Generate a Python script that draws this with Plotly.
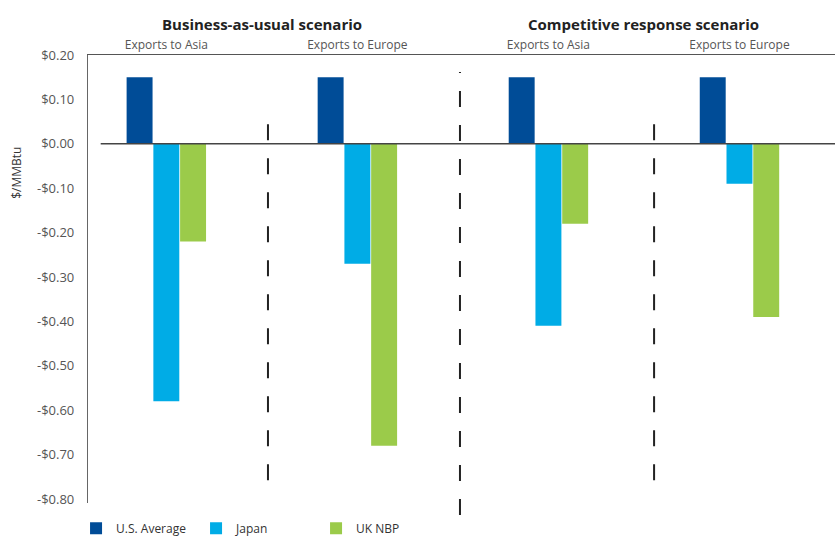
import plotly.graph_objects as go

# ---- data ----
group_ids = ["bau_asia", "bau_europe", "cr_asia", "cr_europe"]
group_labels = ["Exports to Asia", "Exports to Europe", "Exports to Asia", "Exports to Europe"]
scenarios = ["Business-as-usual scenario", "Competitive response scenario"]
series_names = ["U.S. Average", "Japan", "UK NBP"]
us_average = [0.15, 0.15, 0.15, 0.15]
japan = [-0.58, -0.27, -0.41, -0.09]
uk_nbp = [-0.22, -0.68, -0.18, -0.39]
y_ticks = [0.2, 0.1, 0.0, -0.1, -0.2, -0.3, -0.4, -0.5, -0.6, -0.7, -0.8]
y_title = "$/MMBtu"

colors = ["#004C97", "#00ACE6", "#9BCB4A"]


def money(v):
    return ("-$" if v < 0 else "$") + f"{abs(v):.2f}"


y_ticktext = [money(v) for v in y_ticks]

FONT = "Open Sans"

fig = go.Figure()
for name, vals, col in zip(series_names, [us_average, japan, uk_nbp], colors):
    fig.add_trace(go.Bar(x=group_ids, y=vals, name=name, marker_color=col,
                         marker_line_width=0))

fig.update_layout(
    width=835, height=538,
    margin=dict(l=88, r=0, t=55, b=35, autoexpand=False),
    paper_bgcolor="white", plot_bgcolor="white",
    barmode="group", bargap=0.58, bargroupgap=0.03,
    font=dict(family=FONT, size=12, color="#444"),
    showlegend=True,
    legend=dict(orientation="h", x=-0.016, xanchor="left", y=-0.024, yanchor="top",
                font=dict(family=FONT, size=12, color="#333"),
                entrywidth=75, itemwidth=30, tracegroupgap=0),
)

fig.update_xaxes(
    type="category", categoryorder="array", categoryarray=group_ids,
    tickvals=group_ids, ticktext=group_labels, side="top", automargin=False,
    range=[-0.41, 3.5], showline=True, linecolor="#555", linewidth=1.2,
    showgrid=False, zeroline=False, ticks="",
    tickfont=dict(family=FONT, size=12, color="#555"),
)
fig.update_yaxes(
    range=[-0.809, 0.2], tickvals=y_ticks, ticktext=y_ticktext, automargin=False,
    showline=True, linecolor="#666", linewidth=1.2, showgrid=False,
    zeroline=False, ticks="", ticklabelstandoff=10,
    tickfont=dict(family=FONT, size=13, color="#555"),
)

# zero line
fig.add_shape(type="line", xref="paper", yref="y", x0=0.017, x1=1, y0=0, y1=0,
              line=dict(color="#444", width=1.5), layer="above")

# dashed dividers
dash = "16px,18px"
for xd, y0, y1 in [(0.532, 0.051, 0.877), (1.537, -0.027, 0.962), (2.553, 0.051, 0.877)]:
    fig.add_shape(type="line", xref="x", yref="paper", x0=xd, x1=xd, y0=y0, y1=y1,
                  line=dict(color="#222", width=2, dash=dash))

# scenario titles
for xs, txt in zip([0.5, 2.5], scenarios):
    fig.add_annotation(x=xs, xref="x", y=1.069, yref="paper", text=f"<b>{txt}</b>",
                       showarrow=False, yanchor="middle",
                       font=dict(family=FONT, size=15, color="#222"))

# y title
fig.add_annotation(x=-0.095, xref="paper", y=0.737, yref="paper", text=y_title,
                   textangle=-90, showarrow=False, xanchor="center", yanchor="middle",
                   font=dict(family=FONT, size=12, color="#333"))

fig.write_html("out.html", config={"displayModeBar": False},
               post_script="document.body.style.margin='0px';document.body.style.overflow='hidden';")
